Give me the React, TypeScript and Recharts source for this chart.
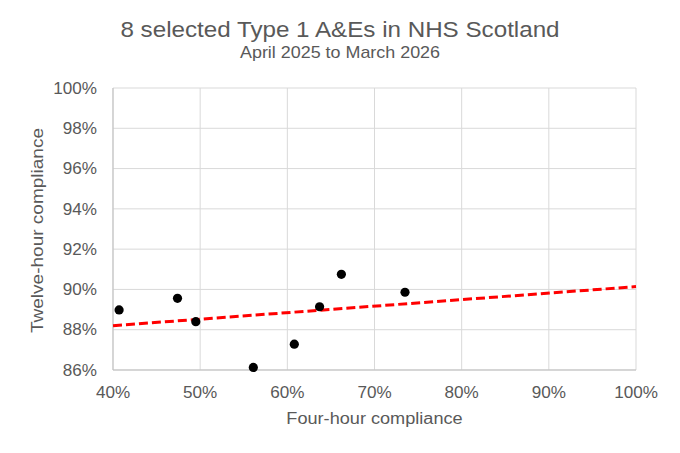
import {
  ScatterChart,
  Scatter,
  XAxis,
  YAxis,
  CartesianGrid,
} from "recharts";

// Four-hour vs twelve-hour compliance, one point per A&E
const fourHour = [40.7, 47.4, 49.5, 56.1, 60.8, 63.7, 66.2, 73.5];
const twelveHour = [88.98, 89.56, 88.4, 86.13, 87.28, 89.14, 90.75, 89.86];

// linear trend endpoints
const trendX = [40, 100];
const trendY = [88.2, 90.14];

const xTicks = [40, 50, 60, 70, 80, 90, 100];
const yTicks = [86, 88, 90, 92, 94, 96, 98, 100];

const points = fourHour.map((x, i) => ({ x, y: twelveHour[i] }));
const trend = trendX.map((x, i) => ({ x, y: trendY[i] }));

const FONT = "'Liberation Sans', Arial, sans-serif";
const TEXT = "#595959";
const STRETCH = 1.07;

const XTick = (props: any) => {
  const { x, y, payload } = props;
  return (
    <text
      transform={`translate(${x} ${y + 11.6}) scale(${STRETCH} 1)`}
      textAnchor="middle"
      fill={TEXT}
      fontSize={16}
      fontFamily={FONT}
    >
      {payload.value}%
    </text>
  );
};

const YTick = (props: any) => {
  const { x, y, payload } = props;
  return (
    <text
      transform={`translate(${x} ${y + 5.7}) scale(${STRETCH} 1)`}
      textAnchor="end"
      fill={TEXT}
      fontSize={16}
      fontFamily={FONT}
    >
      {payload.value}%
    </text>
  );
};

export default function App() {
  return (
    <div
      style={{
        position: "absolute",
        left: 0,
        top: 0,
        width: 680,
        height: 453,
        background: "#fff",
      }}
    >
      <ScatterChart
        width={680}
        height={453}
        margin={{ top: 88, right: 44, bottom: 53, left: 0 }}
        style={{ position: "absolute", left: 0, top: 0 }}
      >
        <CartesianGrid stroke="#d9d9d9" strokeWidth={1} />
        <XAxis
          type="number"
          dataKey="x"
          domain={[40, 100]}
          ticks={xTicks}
          tickLine={false}
          tickSize={0}
          tickMargin={16}
          height={30}
          axisLine={{ stroke: "#bfbfbf" }}
          tick={<XTick />}
          interval={0}
        />
        <YAxis
          type="number"
          dataKey="y"
          domain={[86, 100]}
          ticks={yTicks}
          tickLine={false}
          tickSize={0}
          tickMargin={16}
          width={113}
          axisLine={{ stroke: "#bfbfbf" }}
          tick={<YTick />}
          interval={0}
        />
        <Scatter
          data={trend}
          line={{ stroke: "#ff0000", strokeWidth: 3, strokeDasharray: "9 4" }}
          shape={() => <g />}
          isAnimationActive={false}
        />
        <Scatter
          data={points}
          fill="#000000"
          shape={(p: any) => <circle cx={p.cx} cy={p.cy} r={4.6} fill="#000" />}
          isAnimationActive={false}
        />
      </ScatterChart>
      <svg
        width={680}
        height={453}
        style={{ position: "absolute", left: 0, top: 0, pointerEvents: "none" }}
        fontFamily={FONT}
        fill={TEXT}
      >
        <text
          transform="translate(340 36.7) scale(1.1 1)"
          textAnchor="middle"
          fontSize={22}
        >
          8 selected Type 1 A&amp;Es in NHS Scotland
        </text>
        <text
          transform="translate(340 58.3) scale(1.12 1)"
          textAnchor="middle"
          fontSize={16}
        >
          April 2025 to March 2026
        </text>
        <text
          transform="translate(374.5 424.3) scale(1.12 1)"
          textAnchor="middle"
          fontSize={16.2}
        >
          Four-hour compliance
        </text>
        <text
          transform="translate(42.5 230.5) rotate(-90) scale(1.16 1)"
          textAnchor="middle"
          fontSize={16.4}
        >
          Twelve-hour compliance
        </text>
      </svg>
    </div>
  );
}
